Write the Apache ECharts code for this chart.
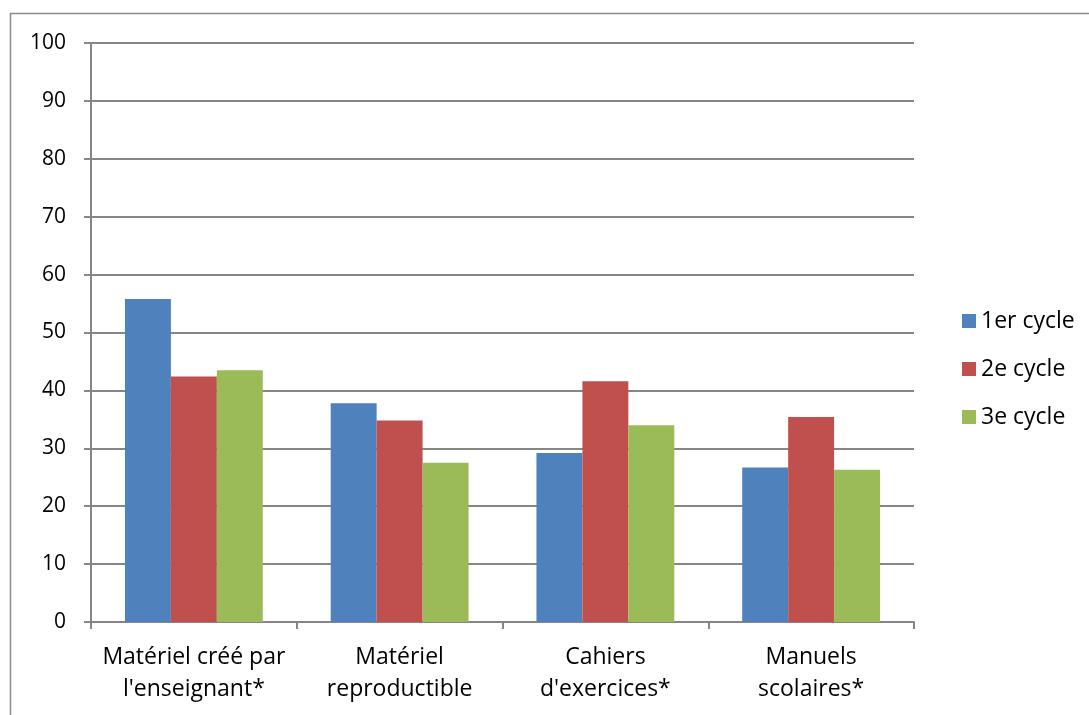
<!DOCTYPE html>
<html>
<head>
<meta charset="utf-8">
<script src="https://cdn.jsdelivr.net/npm/echarts@6/dist/echarts.min.js"></script>
<style>html,body{margin:0;padding:0;background:#fff;}#c{width:1089px;height:715px;}</style>
</head>
<body>
<div id="c"></div>
<script>
var categories = ["Matériel créé par\nl'enseignant*", "Matériel\nreproductible", "Cahiers\nd'exercices*", "Manuels\nscolaires*"];
var seriesNames = ["1er cycle", "2e cycle", "3e cycle"];
var cycle1 = [55.8, 37.8, 29.2, 26.7];
var cycle2 = [42.4, 34.8, 41.6, 35.4];
var cycle3 = [43.5, 27.5, 34.0, 26.3];
var colors = ["#4F81BD", "#C0504D", "#9BBB59"];
var FONT = "Open Sans";
var chart = echarts.init(document.getElementById('c'));
var data = [cycle1, cycle2, cycle3];
chart.setOption({
  animation: false,
  graphic: [{type:'rect', shape:{x:10.5, y:13.5, width:1200, height:800}, style:{fill:'none', stroke:'#8a8a8a', lineWidth:1.5}}],
  legend: {
    orient: 'vertical', left: 957, top: 302, itemWidth: 14, itemHeight: 14, itemGap: 20,
    icon: 'rect',
    textStyle: {fontFamily: FONT, fontSize: 23, color: '#000', padding:[0,0,0,0], lineHeight: 28},
    data: seriesNames
  },
  grid: {left: 91, right: 175, top: 43, bottom: 93, containLabel: false},
  xAxis: {
    type: 'category', data: categories,
    axisLine: {lineStyle: {color: '#868686', width: 2}},
    axisTick: {show: true, length: 7, lineStyle: {color: '#868686', width: 2}},
    axisLabel: {fontFamily: FONT, fontSize: 23, color: '#000', margin: 19, lineHeight: 32, interval: 0}
  },
  yAxis: {
    type: 'value', min: 0, max: 100, interval: 10,
    axisLine: {show: true, lineStyle: {color: '#868686', width: 2}},
    axisTick: {show: true, length: 7, lineStyle: {color: '#868686', width: 2}},
    splitLine: {lineStyle: {color: '#868686', width: 2}},
    axisLabel: {fontFamily: FONT, fontSize: 21, color: '#000', margin: 25}
  },
  series: seriesNames.map(function(n, i){
    return {name: n, type: 'bar', data: data[i], barGap: '0%', barCategoryGap: '33%',
      itemStyle: {color: colors[i]}};
  })
});
</script>
</body>
</html>
